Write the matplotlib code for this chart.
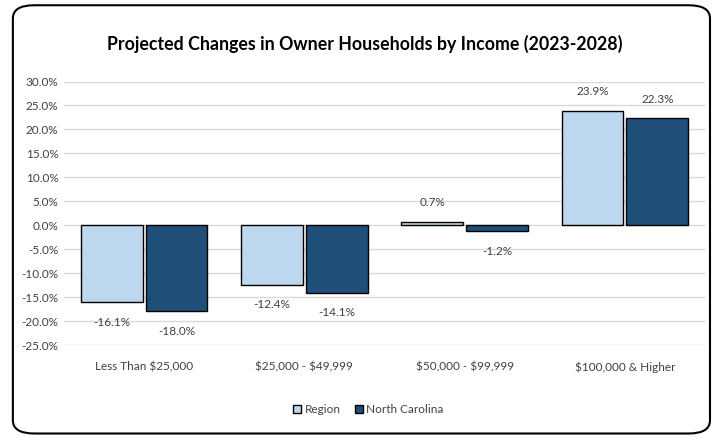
import matplotlib
matplotlib.use("Agg")
import matplotlib.pyplot as plt
from matplotlib.patches import FancyBboxPatch, Patch
import numpy as np

plt.rcParams['font.family'] = ['Lato', 'DejaVu Sans']
plt.rcParams['text.parse_math'] = False

categories = ["Less Than $25,000", "$25,000 - $49,999", "$50,000 - $99,999", "$100,000 & Higher"]
region = [-16.1, -12.4, 0.7, 23.9]
north_carolina = [-18.0, -14.1, -1.2, 22.3]
series_names = ["Region", "North Carolina"]
colors = ["#BDD7EE", "#1F4E79"]

fig = plt.figure(figsize=(7.15, 4.37), dpi=100)
ax = fig.add_axes([0.0895, 0.2105, 0.8965, 0.603])

x = np.arange(len(categories))
w = 0.385
gap = 0.02
offsets = [-(w + gap) / 2, (w + gap) / 2]

# grouped bars with value labels just past the end of each bar
for vals, off, col in zip([region, north_carolina], offsets, colors):
    bars = ax.bar(x + off, vals, width=w, color=col, edgecolor="black", linewidth=1.0, zorder=3)
    for b, v in zip(bars, vals):
        y = v + (4.0 if v >= 0 else -4.2)
        ax.text(b.get_x() + b.get_width() / 2, y, f"{v:.1f}%", ha="center",
                va="center", fontsize=8.5, color="#404040")

ax.set_xlim(-0.5, len(categories) - 0.5)
ax.set_ylim(-25, 30)
ax.set_yticks(np.arange(-25, 31, 5))
ax.set_yticklabels([f"{t:.1f}%" for t in np.arange(-25, 31, 5)], fontsize=8.5, color="#404040")
ax.set_xticks(x)
ax.set_xticklabels(categories, fontsize=8.5, color="#404040")
ax.tick_params(length=0, pad=4)
ax.tick_params(axis="x", pad=12)
ax.grid(axis="y", color="#D9D9D9", linewidth=1.0, zorder=0)
for s in ax.spines.values():
    s.set_visible(False)

fig.text(0.51, 0.9, "Projected Changes in Owner Households by Income (2023-2028)",
         ha="center", va="center", fontsize=12.8, fontweight="bold", color="black")

handles = [Patch(facecolor=c, edgecolor="black", label=n) for c, n in zip(colors, series_names)]
fig.legend(handles=handles, loc="center", bbox_to_anchor=(0.515, 0.062), ncol=2, frameon=False,
           fontsize=8.5, handlelength=0.7, handleheight=0.7, handletextpad=0.3, columnspacing=1.2,
           labelcolor="#404040")

# rounded outline around the whole chart
border = FancyBboxPatch((0.018, 0.008), 0.975, 0.98, boxstyle="round,pad=0,rounding_size=0.03",
                        transform=fig.transFigure, facecolor="none", edgecolor="black",
                        linewidth=1.5, zorder=10)
fig.patches.append(border)

fig.savefig("out.png", dpi=100)
